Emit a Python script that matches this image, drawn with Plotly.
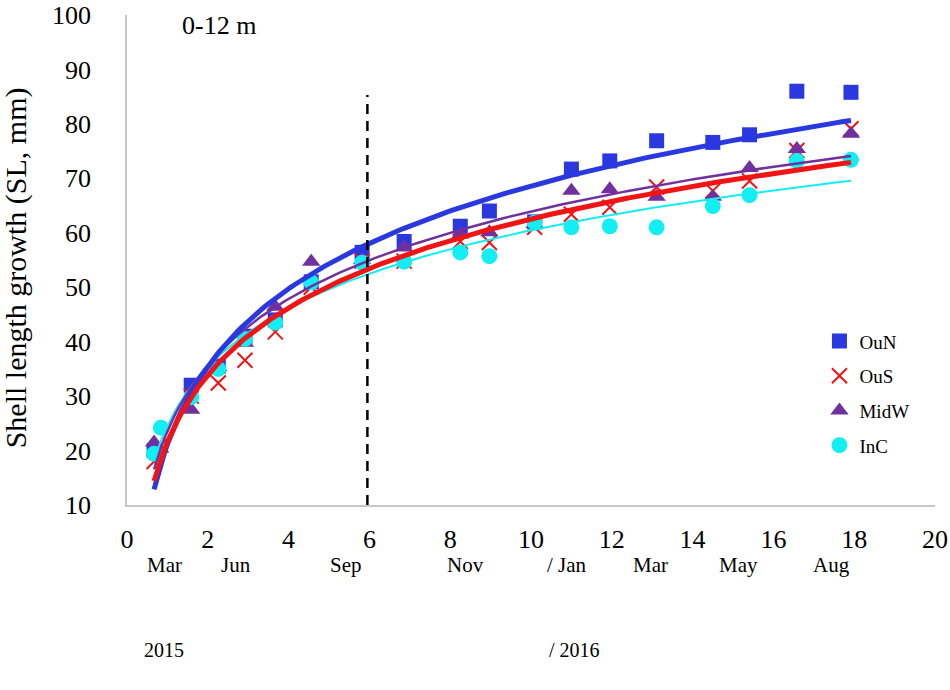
import numpy as np
import plotly.graph_objects as go

# sampling times (months since first collection) and mean shell length per site
months = [0.67, 1.59, 2.26, 2.92, 3.67, 4.56, 5.82, 6.86, 8.25, 8.97,
          10.09, 11.0, 11.95, 13.11, 14.5, 15.41, 16.58, 17.92]
early_extra = 0.84

oun = [20.0, 32.0, 35.5, 41.0, 44.0, 51.0, 56.4, 58.4, 61.2, 64.0,
       62.0, 71.7, 73.2, 76.9, 76.6, 78.0, 86.0, 85.8]
ous = [18.0, 30.0, 32.4, 36.6, 41.8, 50.0, 54.8, 54.8, 58.4, 58.2,
       61.0, 63.4, 64.7, 68.4, 67.7, 69.5, 75.1, 79.1]
ous_extra = 21.0
midw = [21.5, 27.5, 35.3, 39.8, 46.4, 54.7, 55.0, 57.3, 59.7, 60.1,
        61.6, 67.7, 68.0, 66.6, 66.6, 71.9, 75.4, 78.2]
inc = [19.4, 29.8, 35.0, 40.5, 43.5, 50.9, 54.5, 54.7, 56.4, 55.7,
       61.9, 61.0, 61.2, 61.0, 64.9, 66.9, 73.2, 73.4]
inc_extra = 24.2

# month / year labels under the axis (positions in axis units)
month_labels = ["Mar", "Jun", "Sep", "Nov", "/ Jan", "Mar", "May", "Aug"]
month_pos = [0.92, 2.70, 5.43, 8.38, 10.88, 12.96, 15.14, 17.45]
year_labels = ["2015", "/ 2016"]
year_pos = [0.92, 11.08]

split_x = 5.95      # dashed separator
split_top = 85.3

series = [
    ("OuN", months, oun, "#2A38E0", "square", 15, 5),
    ("OuS", sorted(months + [early_extra]), ous[:1] + [ous_extra] + ous[1:], "#F01414", "x-thin-open", 15, 5),
    ("MidW", months, midw, "#7030A0", "triangle-up", 16, 2.5),
    ("InC", sorted(months + [early_extra]), inc[:1] + [inc_extra] + inc[1:], "#12EEF2", "circle", 16, 2),
]

serif = "Liberation Serif, Times New Roman, serif"

fig = go.Figure()

for i, (name, xs, ys, col, sym, size, lw) in enumerate(series):
    mk = dict(symbol=sym, size=size, color=col)
    if sym == "x-thin-open":
        mk["line"] = dict(color=col, width=2)
    fig.add_trace(go.Scatter(x=xs, y=ys, mode="markers", name=name, marker=mk,
                             legendgroup="g%d" % i))

# logarithmic trend lines (fitted to each series like the spreadsheet trendline)
for idx in [3, 2, 0, 1]:
    name, xs, ys, col, sym, size, lw = series[idx]
    a, b = np.polyfit(np.log(xs), ys, 1)
    xf = np.linspace(min(xs), max(xs), 200)
    fig.add_trace(go.Scatter(x=xf, y=a * np.log(xf) + b, mode="lines",
                             line=dict(color=col, width=lw), showlegend=False,
                             hoverinfo="skip"))

fig.add_shape(type="line", xref="x", yref="y", x0=split_x, x1=split_x,
              y0=10, y1=split_top, line=dict(color="black", width=2.5, dash="10px,7px"))

ann = [dict(x=1.32, y=98.0, xref="x", yref="y", text="0-12 m", showarrow=False,
            xanchor="left", yanchor="middle", font=dict(size=26, family=serif))]
for t, p in zip(month_labels, month_pos):
    ann.append(dict(x=p, y=-0.123, xref="x", yref="paper", text=t, showarrow=False,
                    yanchor="middle", font=dict(size=21, family=serif)))
for t, p in zip(year_labels, year_pos):
    ann.append(dict(x=p, y=-0.295, xref="x", yref="paper", text=t, showarrow=False,
                    yanchor="middle", font=dict(size=20, family=serif)))
ann.append(dict(x=-0.138, y=0.484, xref="paper", yref="paper", textangle=-90,
                xanchor="center", yanchor="middle",
                text="Shell length growth (SL, mm)", showarrow=False,
                font=dict(size=30, family=serif)))

fig.update_layout(
    width=950, height=690,
    margin=dict(l=127, r=15, t=15, b=185, autoexpand=False),
    paper_bgcolor="white", plot_bgcolor="white",
    font=dict(family=serif, color="black"),
    annotations=ann,
    legend=dict(x=0.857, y=0.373, xanchor="left", yanchor="top",
                font=dict(size=19, family=serif), tracegroupgap=7,
                bgcolor="rgba(0,0,0,0)"),
    showlegend=True,
)

fig.update_xaxes(range=[0, 20], dtick=2, showgrid=False, zeroline=False,
                 showline=True, linecolor="#C8C8C8", linewidth=1.5, automargin=False,
                 ticks="", ticklabelstandoff=10, ticklabeloverflow="allow",
                 tickfont=dict(size=26, family=serif))
fig.update_yaxes(range=[10, 100], dtick=10, showgrid=False, zeroline=False,
                 showline=True, linecolor="#C8C8C8", linewidth=1.5, automargin=False,
                 ticks="", ticklabelstandoff=29, ticklabeloverflow="allow",
                 tickfont=dict(size=26, family=serif))

# drop the default page margin so the figure sits at the window's corner
fig.write_html("out.html", config={"displayModeBar": False},
               post_script="document.body.style.margin='0px';")
